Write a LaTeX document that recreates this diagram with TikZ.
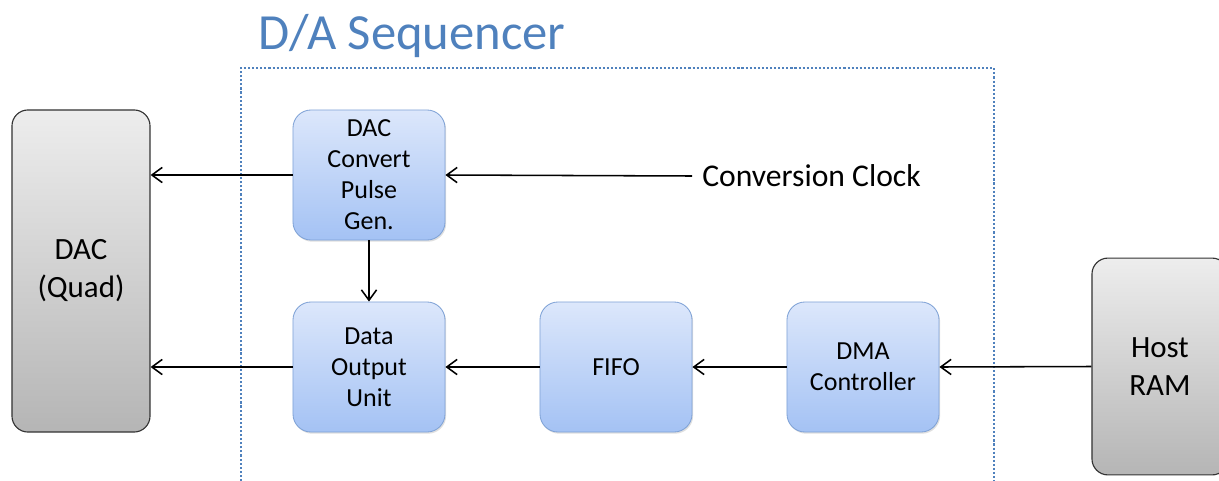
\documentclass[tikz,border=0pt]{standalone}
\usepackage{fontspec}
\setmainfont{Carlito}
\usetikzlibrary{arrows.meta,shadows}
\definecolor{seqblue}{HTML}{4F81BD}
\definecolor{boxtop}{HTML}{DCE7FB}
\definecolor{boxbot}{HTML}{A4C2F4}
\definecolor{boxline}{HTML}{7FA2D6}
\begin{document}
\begin{tikzpicture}[x=0.025cm,y=-0.025cm,
  unit/.style={rectangle, rounded corners=0.45cm, draw=boxline, line width=0.6pt,
    top color=boxtop, bottom color=boxbot, minimum width=3.8cm, minimum height=3.25cm,
    align=center, font=\fontsize{18.5}{22}\selectfont,
    drop shadow={shadow xshift=0.8pt, shadow yshift=-1.2pt, opacity=0.25}},
  ext/.style={rectangle, rounded corners=0.4cm, draw=black!80, line width=0.8pt,
    top color=black!7, bottom color=black!29, align=center,
    font=\fontsize{22}{27}\selectfont},
  flow/.style={draw=black, line width=1.1pt, -{Straight Barb[length=2.6mm,width=3.8mm]}}]
\useasboundingbox (0,0) rectangle (1219,481);
% sequencer frame
\draw [seqblue, line width=1.9pt, dash pattern=on 1.5pt off 1.4pt] (241,481) -- (241,68) -- (994,68) -- (994,481);
\node [anchor=west, inner sep=0pt, text=seqblue, font=\fontsize{36}{40}\selectfont] (title) at (258,36) {D/A Sequencer};
% outside blocks
\node [ext, minimum width=3.45cm, minimum height=8.05cm] (dac) at (81,271) {DAC\\(Quad)};
\node [ext, minimum width=3.4cm, minimum height=5.42cm] (host) at (1160,366.5) {Host\\RAM};
% sequencer blocks
\node [unit] (pulse) at (369,175) {DAC\\Convert\\Pulse\\Gen.};
\node [unit] (dout) at (369,367) {Data\\Output\\Unit};
\node [unit] (fifo) at (616,367) {FIFO};
\node [unit] (dma) at (863,367) {DMA\\Controller};
\node [anchor=west, inner sep=0.25cm, font=\fontsize{22.5}{26}\selectfont] (clk) at (692,176) {Conversion Clock};
% connections
\draw [flow] (clk.west) -- (pulse.east);
\draw [flow] (pulse.west) -- (dac.east |- pulse.west);
\draw [flow] (pulse) -- (dout);
\draw [flow] (dout.west) -- (dac.east |- dout.west);
\draw [flow] (fifo) -- (dout);
\draw [flow] (dma) -- (fifo);
\draw [flow] (host.west) -- (dma.east);
\end{tikzpicture}
\end{document}
